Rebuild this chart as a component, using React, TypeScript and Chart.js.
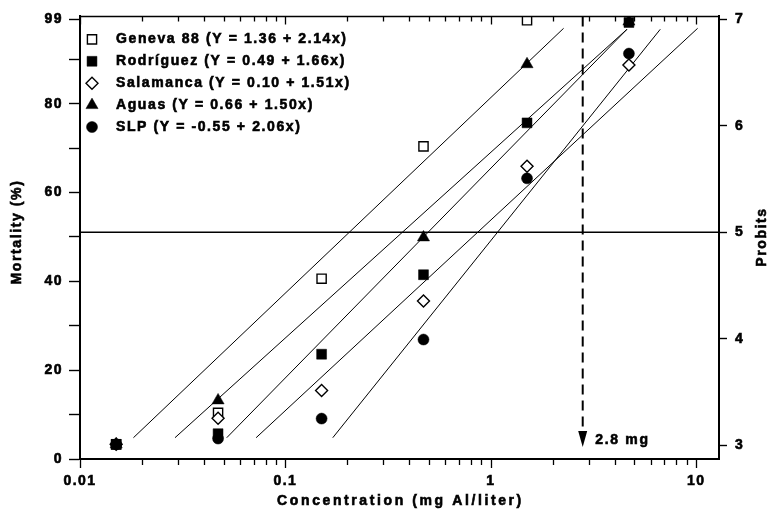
import React, { useEffect, useRef } from 'react';
import { Chart, registerables } from 'chart.js';

Chart.register(...registerables);

// ---------- data ----------
const concentrations = [0.015, 0.047, 0.15, 0.47, 1.5, 4.7]; // mg Al/liter

const seriesNames = [
  'Geneva 88 (Y = 1.36 + 2.14x)',
  'Rodríguez (Y = 0.49 + 1.66x)',
  'Salamanca (Y = 0.10 + 1.51x)',
  'Aguas (Y = 0.66 + 1.50x)',
  'SLP (Y = -0.55 + 2.06x)',
];

// mortality (%)
const geneva88 = [3.3, 10.4, 40.6, 70.4, 98.8, null];
const rodriguez = [3.3, 5.7, 23.6, 41.5, 75.7, 98.3];
const salamanca = [3.3, 9.2, 15.4, 35.6, 65.9, 88.7];
const aguas = [3.3, 13.2, null, 49.9, 88.9, 98.5];
const slp = [3.3, 4.6, 9.1, 26.9, 63.2, 91.3];

// fitted probit lines (start / end concentration and probit)
const lineStartConc = [0.0182, 0.029, 0.0518, 0.072, 0.170];
const lineEndConc = [2.26, 4.6, 4.6, 10.15, 6.68];
const lineStartProbit = [3.07, 3.07, 3.07, 3.07, 3.07];
const lineEndProbit = [6.916, 6.907, 6.907, 6.916, 6.907];

const thresholdProbit = 5;
const lc50 = 2.8;
const arrowTipProbit = 2.982;
const arrowDashEndProbit = 3.12;

const xTickValues = [0.01, 0.1, 1, 10];
const yTickValues = [0, 10, 20, 30, 40, 50, 60, 70, 80, 90, 99];
const yLabelValues = [0, 20, 40, 60, 80, 99];
const y2TickValues = [3, 4, 5, 6, 7];

const X_MIN = 0.01;
const X_MAX = 12.9;
const Y_MIN = 0;
const Y_MAX = 99.67;
const Y2_MIN = 2.87;
const Y2_MAX = 7.028;

// ---------- styles ----------
const FONT = "'Liberation Sans', Arial, Helvetica, sans-serif";
const TEXT_STROKE = 0.6;
const markerStyles = [
  { style: 'rect', radius: 6.5, fill: '#ffffff', border: 1.4 },
  { style: 'rect', radius: 7, fill: '#000000', border: 0.5 },
  { style: 'rectRot', radius: 6, fill: '#ffffff', border: 1.4 },
  { style: 'triangle', radius: 7, fill: '#000000', border: 0.5 },
  { style: 'circle', radius: 5.5, fill: '#000000', border: 0.5 },
];
const drawOrder = [5, 3, 4, 1, 2];

function drawMarker(ctx: CanvasRenderingContext2D, style: string, x: number, y: number, r: number, fill: string, lw: number) {
  ctx.save();
  ctx.beginPath();
  if (style === 'rect') {
    const s = r * Math.SQRT1_2;
    ctx.rect(x - s, y - s, 2 * s, 2 * s);
  } else if (style === 'rectRot') {
    ctx.moveTo(x, y - r);
    ctx.lineTo(x + r, y);
    ctx.lineTo(x, y + r);
    ctx.lineTo(x - r, y);
    ctx.closePath();
  } else if (style === 'triangle') {
    const s = Math.sin(Math.PI / 3) * r;
    ctx.moveTo(x, y - r);
    ctx.lineTo(x + s, y + r / 2);
    ctx.lineTo(x - s, y + r / 2);
    ctx.closePath();
  } else {
    ctx.arc(x, y, r, 0, Math.PI * 2);
  }
  ctx.fillStyle = fill;
  ctx.fill();
  ctx.lineWidth = lw;
  ctx.strokeStyle = '#000';
  ctx.stroke();
  ctx.restore();
}

function heavyText(ctx: CanvasRenderingContext2D, text: string, x: number, y: number) {
  ctx.fillText(text, x, y);
  ctx.lineWidth = TEXT_STROKE;
  ctx.strokeStyle = '#000';
  ctx.strokeText(text, x, y);
}

const overlayPlugin = {
  id: 'overlay',
  beforeUpdate(chart: any) {
    chart.ctx.letterSpacing = '1.5px';
  },
  beforeDraw(chart: any) {
    chart.ctx.letterSpacing = '1.5px';
  },
  afterDatasetsDraw(chart: any) {
    const ctx: CanvasRenderingContext2D = chart.ctx;
    const xs = chart.scales.x;
    const y2 = chart.scales.y2;
    const px = xs.getPixelForValue(lc50);
    const tip = y2.getPixelForValue(arrowTipProbit);
    ctx.save();
    ctx.fillStyle = '#000';
    ctx.beginPath();
    ctx.moveTo(px, tip);
    ctx.lineTo(px - 4.5, tip - 16);
    ctx.lineTo(px + 4.5, tip - 16);
    ctx.closePath();
    ctx.fill();
    (ctx as any).letterSpacing = '1.7px';
    ctx.font = `bold 14px ${FONT}`;
    ctx.textAlign = 'left';
    ctx.textBaseline = 'middle';
    heavyText(ctx, `${lc50} mg`, px + 12.5, tip - 7);
    ctx.restore();
  },
  afterDraw(chart: any) {
    const ctx: CanvasRenderingContext2D = chart.ctx;
    const area = chart.chartArea;
    const xs = chart.scales.x;
    ctx.save();
    ctx.strokeStyle = '#000';
    // top border
    ctx.lineWidth = 1.5;
    ctx.beginPath();
    ctx.moveTo(area.left, area.top);
    ctx.lineTo(area.right, area.top);
    ctx.stroke();
    // log ticks: bottom outward, top inward
    ctx.lineWidth = 1.3;
    for (const d of xTickValues) {
      for (let k = 1; k <= 9; k++) {
        const v = d * k;
        if (v < X_MIN || v > X_MAX) continue;
        const x = Math.round(xs.getPixelForValue(v)) + 0.5;
        const major = k === 1;
        ctx.beginPath();
        ctx.moveTo(x, area.bottom);
        ctx.lineTo(x, area.bottom + (major ? 9 : 6));
        ctx.moveTo(x, area.top);
        ctx.lineTo(x, area.top + (major ? 8 : 5));
        ctx.stroke();
      }
    }
    // axis titles
    ctx.fillStyle = '#000';
    ctx.font = `bold 14px ${FONT}`;
    ctx.textAlign = 'center';
    ctx.textBaseline = 'middle';
    (ctx as any).letterSpacing = '2.6px';
    heavyText(ctx, 'Concentration (mg Al/liter)', (area.left + area.right) / 2 + 1, 501);
    (ctx as any).letterSpacing = '1.6px';
    ctx.save();
    ctx.translate(17, 232);
    ctx.rotate(-Math.PI / 2);
    heavyText(ctx, 'Mortality (%)', 0, 0);
    ctx.restore();
    ctx.save();
    ctx.translate(762, 237);
    ctx.rotate(-Math.PI / 2);
    heavyText(ctx, 'Probits', 0, 0);
    ctx.restore();
    // legend
    ctx.textAlign = 'left';
    (ctx as any).letterSpacing = '1.6px';
    chart.data.datasets.forEach((ds: any) => {
      if (ds.legendIndex === undefined) return;
      const i = ds.legendIndex;
      const y = area.top + 23 + i * 21.9;
      const m = markerStyles[i];
      drawMarker(ctx, m.style, area.left + 12, y, m.radius, m.fill, m.border);
      ctx.fillStyle = '#000';
      heavyText(ctx, ds.label, area.left + 36, y);
    });
    ctx.restore();
  },
};

const pointSeries = [geneva88, rodriguez, salamanca, aguas, slp];

function buildConfig(): any {
  const pointDatasets = pointSeries.map((vals, i) => ({
    type: 'scatter',
    label: seriesNames[i],
    legendIndex: i,
    yAxisID: 'y',
    order: drawOrder[i],
    data: concentrations
      .map((c, j) => ({ x: c, y: vals[j] }))
      .filter((p) => p.y !== null),
    pointStyle: markerStyles[i].style,
    pointRadius: markerStyles[i].radius,
    pointBackgroundColor: markerStyles[i].fill,
    pointBorderColor: '#000',
    pointBorderWidth: markerStyles[i].border,
    showLine: false,
  }));

  const fitDatasets = lineStartConc.map((c, i) => ({
    type: 'line',
    label: 'fit ' + i,
    yAxisID: 'y2',
    order: 10,
    data: [
      { x: c, y: lineStartProbit[i] },
      { x: lineEndConc[i], y: lineEndProbit[i] },
    ],
    borderColor: '#000',
    borderWidth: 1,
    pointRadius: 0,
    fill: false,
  }));

  const thresholdDataset = {
    type: 'line',
    label: 'probit 5',
    yAxisID: 'y2',
    order: 11,
    data: [
      { x: X_MIN, y: thresholdProbit },
      { x: X_MAX, y: thresholdProbit },
    ],
    borderColor: '#000',
    borderWidth: 1.6,
    pointRadius: 0,
  };

  const arrowDataset = {
    type: 'line',
    label: 'LC50',
    yAxisID: 'y2',
    order: 12,
    data: [
      { x: lc50, y: Y2_MAX },
      { x: lc50, y: arrowDashEndProbit },
    ],
    borderColor: '#000',
    borderWidth: 2,
    borderDash: [10, 6],
    pointRadius: 0,
  };

  const tickFont = { family: FONT, size: 14, weight: 'bold' };
  const tickCommon = {
    autoSkip: false,
    color: '#000',
    font: tickFont,
    textStrokeColor: '#000',
    textStrokeWidth: TEXT_STROKE,
  };

  return {
    type: 'scatter',
    data: { datasets: [...pointDatasets, ...fitDatasets, thresholdDataset, arrowDataset] },
    options: {
      responsive: false,
      animation: false,
      devicePixelRatio: 1,
      layout: { padding: { top: 12, left: 0, right: 0, bottom: 0 } },
      plugins: {
        legend: { display: false },
        tooltip: { enabled: false },
        title: { display: false },
      },
      scales: {
        x: {
          type: 'logarithmic',
          position: 'bottom',
          min: X_MIN,
          max: X_MAX,
          afterBuildTicks: (s: any) => {
            s.ticks = xTickValues.map((v) => ({ value: v, major: true }));
          },
          afterFit: (s: any) => {
            s.height = 52;
          },
          ticks: {
            ...tickCommon,
            maxRotation: 0,
            padding: 14,
            callback: (v: any) => String(v),
          },
          grid: { drawOnChartArea: false, drawTicks: false },
          border: { display: true, color: '#000', width: 2 },
          title: { display: false },
        },
        y: {
          type: 'linear',
          position: 'left',
          min: Y_MIN,
          max: Y_MAX,
          afterBuildTicks: (s: any) => {
            s.ticks = yTickValues.map((v) => ({ value: v }));
          },
          afterFit: (s: any) => {
            s.width = 80;
          },
          ticks: {
            ...tickCommon,
            padding: 6,
            callback: (v: any) => (yLabelValues.includes(v) ? String(v) : ''),
          },
          grid: { drawOnChartArea: false, drawTicks: true, tickLength: 11, tickColor: '#000', tickWidth: 1.4 },
          border: { display: true, color: '#000', width: 2 },
          title: { display: false },
        },
        y2: {
          type: 'linear',
          position: 'right',
          min: Y2_MIN,
          max: Y2_MAX,
          afterBuildTicks: (s: any) => {
            s.ticks = y2TickValues.map((v) => ({ value: v }));
          },
          afterFit: (s: any) => {
            s.width = 54;
          },
          ticks: {
            ...tickCommon,
            padding: 8,
            callback: (v: any) => String(v),
          },
          grid: { drawOnChartArea: false, drawTicks: true, tickLength: 8, tickColor: '#000', tickWidth: 1.4 },
          border: { display: true, color: '#000', width: 2 },
          title: { display: false },
        },
      },
    },
    plugins: [overlayPlugin],
  };
}

export default function App() {
  const ref = useRef<HTMLCanvasElement>(null);
  useEffect(() => {
    document.body.style.margin = '0';
    document.body.style.background = '#fff';
    const chart = new Chart(ref.current as HTMLCanvasElement, buildConfig());
    return () => chart.destroy();
  }, []);
  return (
    <canvas
      ref={ref}
      width={773}
      height={511}
      style={{ display: 'block', width: 773, height: 511, background: '#fff' }}
    />
  );
}
